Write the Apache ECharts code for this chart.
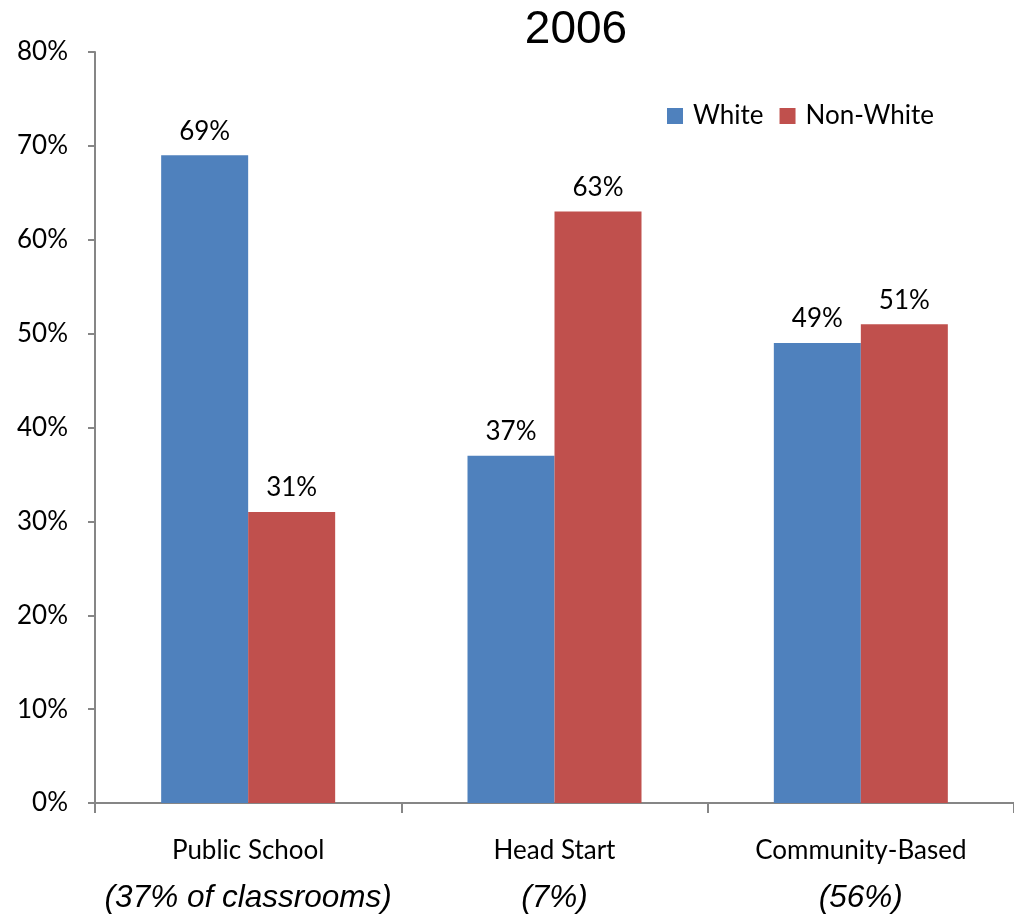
<!DOCTYPE html>
<html><head><meta charset="utf-8">
<script src="https://cdn.jsdelivr.net/npm/echarts@6/dist/echarts.min.js"></script>
<style>html,body{margin:0;padding:0;background:#fff}#c{width:1014px;height:916px}</style>
</head><body><div id="c"></div>
<script>
const categories = ['Public School', 'Head Start', 'Community-Based'];
const subLabels = ['(37% of classrooms)', '(7%)', '(56%)'];
const white = [69, 37, 49];
const nonWhite = [31, 63, 51];
const yTicks = [0, 10, 20, 30, 40, 50, 60, 70, 80];

const F = 'Lato, "Open Sans", sans-serif';
const chart = echarts.init(document.getElementById('c'));
const lbl = {show: true, position: 'top', distance: 11, formatter: p => p.value + '%', fontFamily: F, fontSize: 26, color: '#000'};
chart.setOption({
  animation: false,
  title: {text: '2006', left: 571, top: 2, textAlign: 'center',
    textStyle: {fontFamily: '"Liberation Sans", Arial, sans-serif', fontSize: 46, fontWeight: 'normal', color: '#000'}},
  legend: {left: 662, top: 98, itemWidth: 16, itemHeight: 16, itemGap: 16, icon: 'rect',
    textStyle: {fontFamily: F, fontSize: 26, color: '#000', padding: [0, 0, 0, 5]},
    data: ['White', 'Non-White']},
  grid: {left: 95, right: -2, top: 52, bottom: 113, containLabel: false},
  xAxis: {type: 'category', data: categories,
    axisLine: {lineStyle: {color: '#868686', width: 2}},
    axisTick: {show: true, length: 10, interval: 0, lineStyle: {color: '#868686', width: 2}},
    axisLabel: {interval: 0, margin: 28,
      formatter: (v, i) => '{a|' + v + '}\n{b|' + subLabels[i] + '}',
      rich: {a: {fontFamily: F, fontSize: 26, color: '#000', lineHeight: 40},
             b: {fontFamily: '"Liberation Sans", Arial, sans-serif', fontStyle: 'italic', fontSize: 31.5, color: '#000', lineHeight: 54}}}},
  yAxis: {type: 'value', min: 0, max: 80, interval: 10,
    axisLine: {show: true, lineStyle: {color: '#868686', width: 2}},
    axisTick: {show: true, length: 7, lineStyle: {color: '#868686', width: 2}},
    splitLine: {show: false},
    axisLabel: {margin: 27, formatter: v => v + '%', fontFamily: F, fontSize: 26, color: '#000'}},
  series: [
    {name: 'White', type: 'bar', data: white, barWidth: 87, barGap: '0%', itemStyle: {color: '#4F81BD'}, label: lbl},
    {name: 'Non-White', type: 'bar', data: nonWhite, barWidth: 87, barGap: '0%', itemStyle: {color: '#C0504D'}, label: lbl}
  ]
});
</script></body></html>
